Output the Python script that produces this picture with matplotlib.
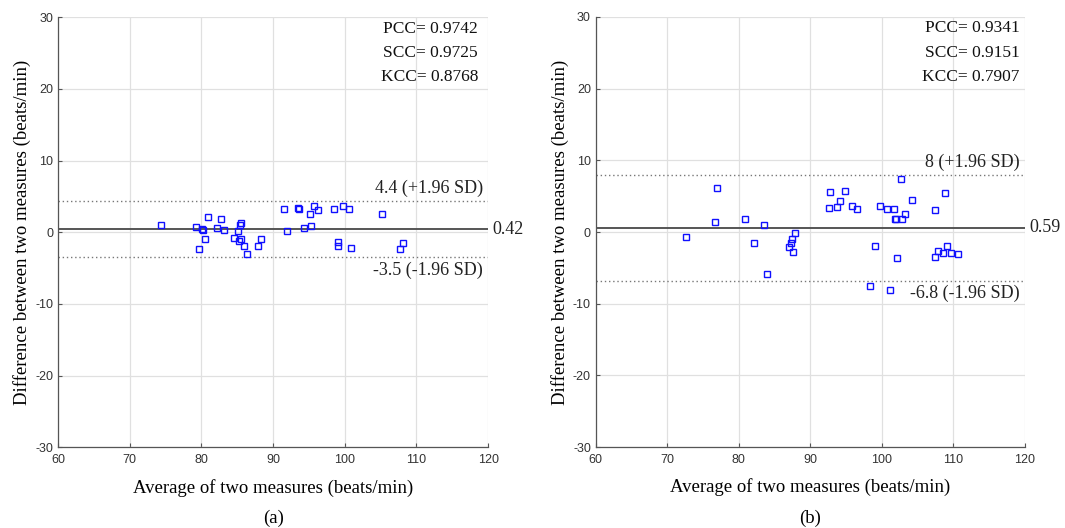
import numpy as np
import matplotlib
matplotlib.use("Agg")
import matplotlib.pyplot as plt

plt.rcParams["axes.unicode_minus"] = False

# panel (a) points: average vs difference
avg_a = [74.4, 79.25, 80.1, 80.2, 80.9, 82.8, 82.2, 83.1, 80.5, 79.7, 85.1, 85.5, 85.4,
         84.5, 85.5, 85.3, 86.0, 86.4, 88.3, 87.9, 91.5, 93.5, 93.6, 95.7, 96.3, 95.2,
         92.0, 94.3, 95.3, 98.5, 99.7, 100.6, 105.2, 99.0, 99.0, 100.9, 108.1, 107.7]
diff_a = [1.02, 0.78, 0.42, 0.25, 2.09, 1.81, 0.64, 0.32, -0.98, -2.37, 0.22, 1.25, 1.02,
          -0.84, -0.93, -1.26, -1.86, -3.03, -0.98, -1.86, 3.25, 3.35, 3.3, 3.67, 3.1, 2.6,
          0.18, 0.64, 0.88, 3.25, 3.67, 3.25, 2.51, -1.4, -1.86, -2.14, -1.54, -2.37]

# panel (b) points
avg_b = [76.9, 76.7, 72.6, 80.9, 83.5, 82.2, 84.0, 87.9, 87.5, 87.3, 87.0, 87.6,
         92.75, 92.6, 93.7, 94.1, 94.8, 95.8, 96.6, 99.8, 100.7, 101.7, 101.9, 102.0,
         102.9, 103.2, 102.7, 104.2, 107.5, 108.8, 99.1, 102.2, 98.3, 101.1, 107.4,
         107.8, 108.6, 109.1, 109.7, 110.6]
diff_b = [6.09, 1.35, -0.74, 1.77, 0.98, -1.53, -5.86, -0.18, -1.0, -1.53, -2.05, -2.83,
          5.58, 3.35, 3.49, 4.28, 5.72, 3.63, 3.21, 3.63, 3.21, 3.21, 1.77, 1.8,
          1.77, 2.47, 7.43, 4.42, 3.07, 5.44, -1.95, -3.63, -7.57, -8.09, -3.49,
          -2.69, -2.97, -2.0, -2.97, -3.07]

mean_a, upper_a, lower_a = 0.42, 4.4, -3.5
mean_b, upper_b, lower_b = 0.59, 8.0, -6.8
stats_a = ["PCC= 0.9742", "SCC= 0.9725", "KCC= 0.8768"]
stats_b = ["PCC= 0.9341", "SCC= 0.9151", "KCC= 0.7907"]

serif = "Liberation Serif"

fig = plt.figure(figsize=(10.65, 5.28), dpi=100)
ax1 = fig.add_axes([0.0545, 0.1527, 0.4038, 0.8148])
ax2 = fig.add_axes([0.5594, 0.1532, 0.4028, 0.8148])


def draw_panel(ax, x, d, mean, up, lo, up_txt, lo_txt, mean_txt, stats, stats_x, tag):
    ax.set_xlim(60, 120)
    ax.set_ylim(-30, 30)
    ax.set_xticks(np.arange(60, 121, 10))
    ax.set_yticks(np.arange(-30, 31, 10))
    ax.grid(True, color="#e0e0e0", lw=0.9)
    ax.set_axisbelow(True)
    for s in ["top", "right"]:
        ax.spines[s].set_visible(False)
    for s in ["left", "bottom"]:
        ax.spines[s].set_color("#555555")
        ax.spines[s].set_linewidth(0.9)
    ax.tick_params(direction="in", length=3, width=0.8, colors="#555555",
                   labelsize=9, labelcolor="#333333")
    ax.tick_params(axis="x", pad=5)
    for lab in ax.get_xticklabels() + ax.get_yticklabels():
        lab.set_family("Liberation Sans")

    ax.axhline(mean, color="#555555", lw=1.4, zorder=2)
    ax.axhline(up, color="#777777", lw=1.0, ls=(0, (1, 2)), zorder=2)
    ax.axhline(lo, color="#777777", lw=1.0, ls=(0, (1, 2)), zorder=2)
    ax.plot(x, d, ls="none", marker="s", ms=4, mfc="none", mec="#1010ff",
            mew=1.0, zorder=3)

    ax.text(119.3, up + 1.7, up_txt, ha="right", va="center",
            fontsize=13, family=serif, color="#222222")
    ax.text(119.3, lo - 1.8, lo_txt, ha="right", va="center",
            fontsize=13, family=serif, color="#222222")
    ax.text(120.6, mean, mean_txt, ha="left", va="center",
            fontsize=13, family=serif, color="#222222", clip_on=False)
    for i, t in enumerate(stats):
        ax.text(stats_x, 28.4 - i * 3.4, t, ha="right", va="center",
                fontsize=12.5, family=serif, color="#111111")

    ax.set_xlabel("Average of two measures (beats/min)", fontsize=13.5,
                  family=serif, labelpad=9)
    ax.set_ylabel("Difference between two measures (beats/min)", fontsize=13.5,
                  family=serif, labelpad=3)
    ax.text(0.5, -0.165, tag, transform=ax.transAxes, ha="center", va="center",
            fontsize=13.5, family=serif)


draw_panel(ax1, avg_a, diff_a, mean_a, upper_a, lower_a, "4.4 (+1.96 SD)",
           "-3.5 (-1.96 SD)", "0.42", stats_a, 118.6, "(a)")
draw_panel(ax2, avg_b, diff_b, mean_b, upper_b, lower_b, "8 (+1.96 SD)",
           "-6.8 (-1.96 SD)", "0.59", stats_b, 119.3, "(b)")

fig.savefig("out.png", dpi=100)
